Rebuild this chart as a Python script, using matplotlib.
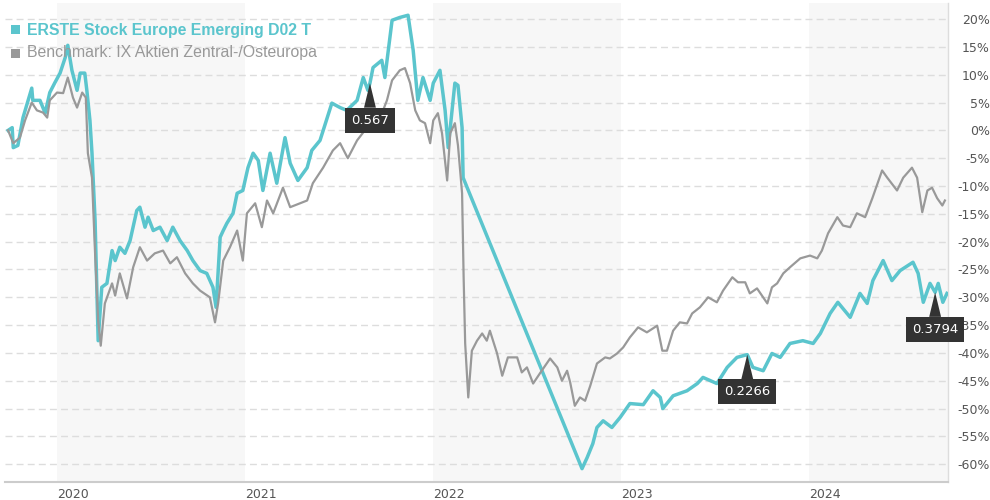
import matplotlib
matplotlib.use("Agg")
import matplotlib.pyplot as plt
import pandas as pd
from matplotlib.patches import Rectangle

# fund (ERSTE) performance in %
erste_dates = [
    "2019-09-28", "2019-10-06", "2019-10-08", "2019-10-17", "2019-10-27", "2019-11-13",
    "2019-11-15", "2019-11-29", "2019-12-09", "2019-12-18", "2019-12-28", "2020-01-07",
    "2020-01-17", "2020-01-22", "2020-01-30", "2020-02-09", "2020-02-15", "2020-02-24",
    "2020-02-28", "2020-03-05", "2020-03-09", "2020-03-15", "2020-03-21", "2020-03-28",
    "2020-04-07", "2020-04-17", "2020-04-23", "2020-05-02", "2020-05-12", "2020-05-22",
    "2020-06-04", "2020-06-10", "2020-06-20", "2020-06-26", "2020-07-06", "2020-07-19",
    "2020-08-02", "2020-08-13", "2020-08-27", "2020-09-10", "2020-09-21", "2020-10-05",
    "2020-10-18", "2020-10-30", "2020-11-05", "2020-11-13", "2020-11-19", "2020-11-26",
    "2020-12-08", "2020-12-16", "2020-12-27", "2021-01-06", "2021-01-16", "2021-01-26",
    "2021-02-04", "2021-02-18", "2021-03-03", "2021-03-19", "2021-03-29", "2021-04-13",
    "2021-05-01", "2021-05-10", "2021-05-26", "2021-06-09", "2021-06-18", "2021-07-04",
    "2021-07-17", "2021-08-06", "2021-08-18", "2021-08-27", "2021-08-31", "2021-09-06",
    "2021-09-23", "2021-09-29", "2021-10-13", "2021-10-28", "2021-11-13", "2021-11-23",
    "2021-12-02", "2021-12-12", "2021-12-26", "2022-01-01", "2022-01-14", "2022-01-24",
    "2022-01-30", "2022-02-06", "2022-02-12", "2022-02-18", "2022-02-26", "2022-02-28",
    "2022-10-17", "2022-10-27", "2022-11-07", "2022-11-15", "2022-11-27", "2022-12-14",
    "2022-12-30", "2023-01-18", "2023-02-13", "2023-03-04", "2023-03-18", "2023-03-23",
    "2023-04-12", "2023-05-09", "2023-05-29", "2023-06-09", "2023-07-06", "2023-07-26",
    "2023-08-14", "2023-09-03", "2023-09-14", "2023-10-04", "2023-10-21", "2023-11-06",
    "2023-11-25", "2023-12-20", "2024-01-09", "2024-01-23", "2024-02-11", "2024-02-26",
    "2024-03-21", "2024-04-09", "2024-04-23", "2024-05-04", "2024-05-24", "2024-06-10",
    "2024-06-26", "2024-07-21", "2024-07-31", "2024-08-10", "2024-08-23", "2024-09-02",
    "2024-09-08", "2024-09-17", "2024-09-25",
]
erste_vals = [
    0.0, 0.5, -3.1, -2.7, 2.3, 7.6,
    5.4, 5.4, 3.1, 6.8, 8.6, 10.3,
    13.1, 15.3, 10.8, 7.2, 10.3, 10.3,
    7.2, 1.8, -4.1, -16.2, -37.8, -28.2,
    -27.5, -21.6, -23.4, -21.0, -22.1, -19.8,
    -14.4, -13.8, -17.4, -15.6, -18.0, -17.4,
    -19.8, -17.4, -19.8, -21.6, -23.4, -25.2,
    -25.7, -28.2, -31.8, -19.2, -18.0, -16.7,
    -14.9, -11.3, -10.8, -6.7, -4.1, -5.4,
    -10.8, -4.1, -9.5, -1.3, -5.9, -9.0,
    -6.7, -3.6, -1.8, 2.3, 4.9, 4.1,
    3.6, 5.4, 9.5, 7.2, 8.5, 11.3,
    12.6, 9.5, 19.8, 20.3, 20.7, 14.4,
    5.4, 9.5, 5.4, 8.5, 10.8, 3.6,
    -3.1, 3.1, 8.5, 8.1, 0.5, -8.5,
    -60.8, -58.8, -56.3, -53.4, -52.2, -53.4,
    -51.6, -49.1, -49.3, -46.8, -48.0, -50.0,
    -47.7, -46.8, -45.5, -44.4, -45.5, -42.6,
    -40.8, -40.3, -42.6, -43.2, -40.1, -40.8,
    -38.3, -37.8, -38.3, -36.5, -32.9, -30.9,
    -33.6, -29.3, -31.1, -27.0, -23.4, -27.0,
    -25.2, -23.7, -25.7, -30.9, -27.5, -29.1,
    -27.5, -30.9, -29.3,
]

# benchmark performance in %
bench_dates = [
    "2019-09-28", "2019-10-08", "2019-10-21", "2019-10-31", "2019-11-13", "2019-11-23",
    "2019-12-05", "2019-12-13", "2019-12-18", "2020-01-01", "2020-01-13", "2020-01-22",
    "2020-02-01", "2020-02-09", "2020-02-19", "2020-02-26", "2020-03-01", "2020-03-09",
    "2020-03-15", "2020-03-21", "2020-03-26", "2020-04-03", "2020-04-17", "2020-04-23",
    "2020-05-02", "2020-05-16", "2020-05-28", "2020-06-10", "2020-06-24", "2020-07-09",
    "2020-07-25", "2020-08-08", "2020-08-21", "2020-09-06", "2020-09-21", "2020-10-05",
    "2020-10-24", "2020-11-03", "2020-11-09", "2020-11-19", "2020-12-02", "2020-12-16",
    "2020-12-27", "2021-01-04", "2021-01-20", "2021-02-02", "2021-02-12", "2021-02-24",
    "2021-03-15", "2021-03-29", "2021-04-17", "2021-05-01", "2021-05-12", "2021-06-01",
    "2021-06-20", "2021-07-04", "2021-07-19", "2021-08-06", "2021-08-21", "2021-09-06",
    "2021-09-20", "2021-10-03", "2021-10-13", "2021-10-28", "2021-11-07", "2021-11-17",
    "2021-11-27", "2021-12-06", "2021-12-16", "2021-12-26", "2022-01-01", "2022-01-10",
    "2022-01-18", "2022-01-28", "2022-02-03", "2022-02-12", "2022-02-18", "2022-02-26",
    "2022-03-01", "2022-03-04", "2022-03-10", "2022-03-17", "2022-03-27", "2022-04-06",
    "2022-04-15", "2022-04-21", "2022-05-05", "2022-05-15", "2022-05-26", "2022-06-13",
    "2022-06-22", "2022-07-02", "2022-07-14", "2022-07-27", "2022-08-16", "2022-08-30",
    "2022-09-08", "2022-09-18", "2022-09-24", "2022-10-03", "2022-10-13", "2022-10-23",
    "2022-11-02", "2022-11-15", "2022-12-01", "2022-12-10", "2022-12-24", "2023-01-05",
    "2023-01-18", "2023-02-03", "2023-02-20", "2023-03-12", "2023-03-22", "2023-03-31",
    "2023-04-12", "2023-04-25", "2023-05-09", "2023-05-19", "2023-06-03", "2023-06-19",
    "2023-07-06", "2023-07-18", "2023-08-05", "2023-08-16", "2023-08-30", "2023-09-08",
    "2023-09-22", "2023-10-12", "2023-10-21", "2023-10-31", "2023-11-12", "2023-11-25",
    "2023-12-15", "2024-01-03", "2024-01-17", "2024-01-26", "2024-02-07", "2024-02-25",
    "2024-03-07", "2024-03-21", "2024-04-03", "2024-04-19", "2024-05-03", "2024-05-22",
    "2024-06-01", "2024-06-20", "2024-07-02", "2024-07-19", "2024-07-29", "2024-08-08",
    "2024-08-18", "2024-08-27", "2024-09-06", "2024-09-16", "2024-09-21",
]
bench_vals = [
    0.0, -2.3, -1.3, 1.8, 5.0, 3.6,
    3.2, 2.3, 5.4, 6.8, 6.7, 9.5,
    5.9, 4.1, 6.8, 5.9, -4.1, -8.5,
    -22.1, -34.2, -38.7, -31.1, -27.5, -29.7,
    -25.7, -30.2, -24.6, -21.0, -23.4, -22.1,
    -21.6, -23.9, -22.8, -25.7, -27.5, -28.8,
    -30.0, -34.5, -31.1, -23.4, -21.0, -18.0,
    -23.4, -14.9, -13.1, -17.4, -12.6, -14.9,
    -10.3, -13.8, -13.1, -12.6, -9.5, -6.7,
    -3.6, -2.3, -5.0, -1.8, 0.0, 3.6,
    2.3, 5.4, 9.0, 10.8, 11.2, 8.5,
    3.6, 1.8, 1.3, -2.3, 1.8, 3.1,
    -0.5, -9.0, -0.5, 1.3, -2.7, -11.3,
    -26.4, -38.3, -48.0, -39.6, -37.8, -36.5,
    -37.8, -36.0, -40.1, -44.1, -40.8, -40.8,
    -43.5, -42.6, -45.5, -43.7, -41.0, -42.6,
    -45.0, -43.2, -45.3, -49.5, -48.0, -48.6,
    -45.9, -41.9, -40.8, -41.0, -40.1, -39.0,
    -37.2, -35.4, -36.3, -35.1, -39.6, -39.6,
    -36.0, -34.5, -34.7, -32.9, -31.8, -30.0,
    -30.9, -28.8, -26.4, -27.3, -27.3, -29.3,
    -28.4, -31.1, -28.2, -27.5, -25.7, -24.6,
    -23.0, -22.5, -23.0, -21.6, -18.5, -15.6,
    -17.1, -17.4, -14.9, -15.6, -12.2, -7.2,
    -8.5, -10.8, -8.5, -6.7, -8.5, -14.7,
    -10.8, -10.3, -12.2, -13.5, -12.6,
]

# flags on the fund line
flag_dates = ["2021-08-31", "2023-09-03", "2024-09-02"]
flag_labels = ["0.567", "0.2266", "0.3794"]

year_labels = ["2020", "2021", "2022", "2023", "2024"]
shaded_years = ["2020", "2022", "2024"]
y_ticks = list(range(-60, 25, 5))

teal = "#5bc5cd"
grey = "#999999"

e_dates = pd.to_datetime(erste_dates)
b_dates = pd.to_datetime(bench_dates)

fig = plt.figure(figsize=(9.9, 5.0), dpi=100)
ax = fig.add_axes([5 / 990, 18 / 500, 943 / 990, 479 / 500])

x0 = pd.Timestamp("2019-09-22")
x1 = pd.Timestamp("2024-09-27")
ax.set_xlim(x0, x1)
ax.set_ylim(-63.2, 22.9)

for yr in shaded_years:
    start = pd.Timestamp(yr + "-01-01")
    end = min(pd.Timestamp(str(int(yr) + 1) + "-01-01"), x1)
    ax.axvspan(start, end, color="#f7f7f7", lw=0, zorder=0)

for v in y_ticks:
    ax.axhline(v, color="#dddddd", lw=1, ls=(0, (5, 3)), zorder=1)

ax.plot(e_dates, erste_vals, color=teal, lw=2.5, solid_joinstyle="round", zorder=3)
ax.plot(b_dates, bench_vals, color=grey, lw=1.6, solid_joinstyle="round", zorder=4)

# flags
for d, lab in zip(flag_dates, flag_labels):
    dt = pd.Timestamp(d)
    val = erste_vals[erste_dates.index(d)]
    ax.annotate(lab, xy=(dt, val), xytext=(0, -37), textcoords="offset pixels",
                ha="center", va="center", color="white", fontsize=9.5,
                fontfamily="DejaVu Sans", zorder=6, annotation_clip=False,
                bbox=dict(boxstyle="square,pad=0.45", fc="#333333", ec="none"),
                arrowprops=dict(arrowstyle="wedge,tail_width=0.9", fc="#333333",
                                ec="none", shrinkA=0, shrinkB=0))

for s in ["top", "left"]:
    ax.spines[s].set_visible(False)
ax.spines["bottom"].set_color("#cccccc")
ax.spines["bottom"].set_linewidth(1.5)
ax.spines["right"].set_color("#dddddd")
ax.spines["right"].set_linewidth(1)

ax.yaxis.tick_right()
ax.set_yticks(y_ticks, labels=[f"{v}%" for v in y_ticks], ha="right")
ax.tick_params(axis="y", length=0, pad=30, labelsize=9, labelcolor="#555555")
ax.set_xticks([pd.Timestamp(y + "-01-01") for y in year_labels], labels=year_labels, ha="left")
ax.tick_params(axis="x", length=0, pad=4, labelsize=9, labelcolor="#555555")

# legend
fig.patches.append(Rectangle((11 / 990, 1 - 34 / 500), 9 / 990, 9 / 500,
                             transform=fig.transFigure, fc=teal, ec="none"))
fig.patches.append(Rectangle((11 / 990, 1 - 58 / 500), 9 / 990, 9 / 500,
                             transform=fig.transFigure, fc=grey, ec="none"))
fig.text(27 / 990, 1 - 30 / 500, "ERSTE Stock Europe Emerging D02 T", color=teal,
         fontsize=11.4, fontweight="bold", fontfamily="Liberation Sans", va="center", zorder=10)
fig.text(27 / 990, 1 - 53 / 500, "Benchmark: IX Aktien Zentral-/Osteuropa", color=grey,
         fontsize=11.4, fontfamily="Liberation Sans", va="center", zorder=10)

fig.savefig("out.png", dpi=100)
